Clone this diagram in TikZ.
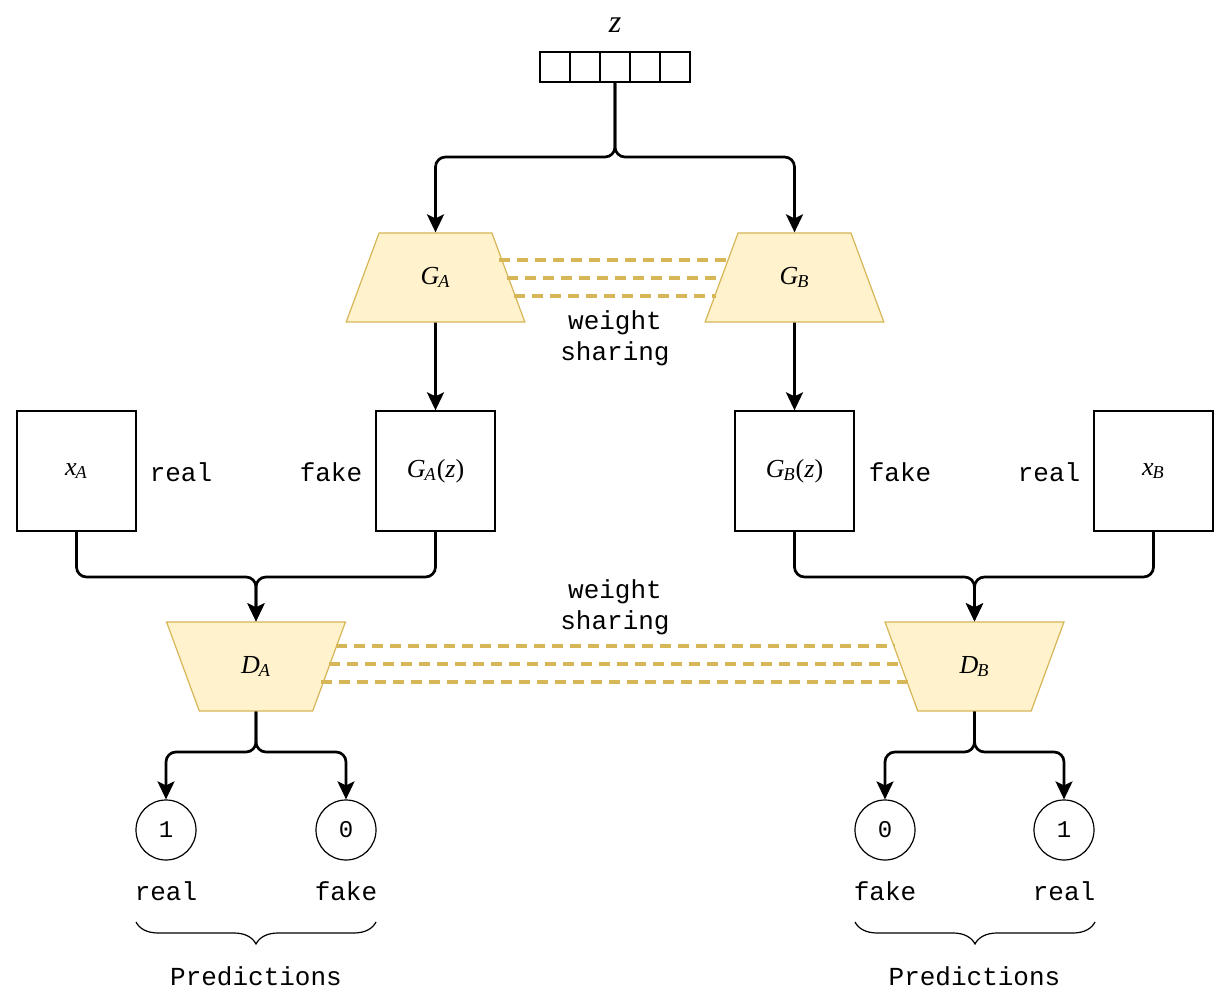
\documentclass[tikz,border=0pt]{standalone}
\usepackage{fontspec}
\setmainfont{Liberation Serif}
\setmonofont{Liberation Mono}
\usetikzlibrary{shapes.geometric,arrows.meta,decorations.pathreplacing,calc}
\definecolor{yfill}{HTML}{FFF2CC}
\definecolor{ydraw}{HTML}{D6B656}
\newcommand{\vsub}[2]{\textit{#1}\kern-0.5pt\textsubscript{\textit{#2}}}
\begin{document}
\begin{tikzpicture}[x=0.5pt,y=-0.5pt,
  every node/.style={font=\fontsize{13}{15}\selectfont},
  cell/.style={draw, line width=0.6pt, minimum width=15pt, minimum height=15pt, inner sep=0pt},
  imgbox/.style={draw, line width=0.65pt, minimum width=59.5pt, minimum height=60pt, inner sep=0pt},
  gen/.style={trapezium, trapezium stretches=true, draw=ydraw, fill=yfill, line width=0.6pt,
    minimum width=89.5pt, minimum height=44.5pt, inner sep=0pt,
    trapezium left angle=67.4, trapezium right angle=67.4},
  disc/.style={gen, shape border rotate=180},
  pred/.style={circle, draw, line width=0.6pt, minimum size=30pt, inner sep=0pt, font=\fontsize{12}{14}\selectfont\ttfamily},
  lbl/.style={font=\fontsize{13}{15}\selectfont\ttfamily, inner sep=0pt},
  conn/.style={line width=1.35pt, rounded corners=5pt, -{Stealth[length=9pt,width=8.5pt,inset=2pt]}},
  share/.style={draw=ydraw, line width=1.6pt, dash pattern=on 5.5pt off 3.5pt},
  brace/.style={decorate, decoration={brace, mirror, amplitude=11pt}, line width=0.6pt}
]
\useasboundingbox (0,0) rectangle (1232,988);

% latent vector z
\node[font=\fontsize{16}{18}\selectfont\itshape] (zlab) at (615,25) {z};
\node[cell] (z1) at (555,67) {};
\node[cell] (z2) at (585,67) {};
\node[cell] (z3) at (615,67) {};
\node[cell] (z4) at (645,67) {};
\node[cell] (z5) at (675,67) {};

% generators
\node[gen] (GA) at (435.5,277.5) {\vsub{G}{A}};
\node[gen] (GB) at (794.5,277.5) {\vsub{G}{B}};

% weight sharing (generators)
\coordinate (ga1) at (499,260); \coordinate (gb1) at (731,260);
\coordinate (ga2) at (507,278); \coordinate (gb2) at (723,278);
\coordinate (ga3) at (514,296); \coordinate (gb3) at (716,296);
\draw[share] (ga1) -- (gb1);
\draw[share] (ga2) -- (gb2);
\draw[share] (ga3) -- (gb3);
\node[lbl] (ws1a) at (615,323) {weight};
\node[lbl] (ws1b) at (615,354) {sharing};

% image boxes
\node[imgbox] (xA) at (76.5,471) {\vsub{x}{A}};
\node[imgbox] (GAz) at (435.5,471) {\vsub{G}{A}(\textit{z})};
\node[imgbox] (GBz) at (794.5,471) {\vsub{G}{B}(\textit{z})};
\node[imgbox] (xB) at (1153.5,471) {\vsub{x}{B}};
\node[lbl] (r1) at (181,472) {real};
\node[lbl] (f1) at (331,472) {fake};
\node[lbl] (f2) at (900,472) {fake};
\node[lbl] (r2) at (1049,472) {real};

% discriminators
\node[disc] (DA) at (256,666.5) {\vsub{D}{A}};
\node[disc] (DB) at (974.5,666.5) {\vsub{D}{B}};

% weight sharing (discriminators)
\coordinate (da1) at (336,646); \coordinate (db1) at (895,646);
\coordinate (da2) at (328.5,664); \coordinate (db2) at (902.5,664);
\coordinate (da3) at (321,682); \coordinate (db3) at (910,682);
\draw[share] (da1) -- (db1);
\draw[share] (da2) -- (db2);
\draw[share] (da3) -- (db3);
\node[lbl] (ws2a) at (615,592) {weight};
\node[lbl] (ws2b) at (615,623) {sharing};

% predictions
\node[pred] (c1) at (166,830) {1};
\node[pred] (c2) at (346,830) {0};
\node[pred] (c3) at (885,830) {0};
\node[pred] (c4) at (1064,830) {1};
\node[lbl] (pl1) at (166,891) {real};
\node[lbl] (pl2) at (346,891) {fake};
\node[lbl] (pl3) at (885,891) {fake};
\node[lbl] (pl4) at (1064,891) {real};

\coordinate (bl1) at (136,922); \coordinate (br1) at (376,922);
\coordinate (bl2) at (855,922); \coordinate (br2) at (1095,922);
\draw[brace] (bl1) -- (br1);
\draw[brace] (bl2) -- (br2);
\node[lbl] (p1) at (256,976) {Predictions};
\node[lbl] (p2) at (974.5,976) {Predictions};

% connectors
\coordinate (s1) at (615,157);
\draw[conn] (z3.south) -- (s1) -| (GA.north);
\draw[conn] (z3.south) -- (s1) -| (GB.north);
\draw[conn] (GA.south) -- (GAz.north);
\draw[conn] (GB.south) -- (GBz.north);
\coordinate (m1) at (256,577);
\coordinate (m2) at (974.5,577);
\draw[conn] (xA.south) |- (m1) -- (DA.north);
\draw[conn] (GAz.south) |- (m1) -- (DA.north);
\draw[conn] (GBz.south) |- (m2) -- (DB.north);
\draw[conn] (xB.south) |- (m2) -- (DB.north);
\coordinate (m3) at (256,752);
\coordinate (m4) at (974.5,752);
\draw[conn] (DA.south) -- (m3) -| (c1.north);
\draw[conn] (DA.south) -- (m3) -| (c2.north);
\draw[conn] (DB.south) -- (m4) -| (c3.north);
\draw[conn] (DB.south) -- (m4) -| (c4.north);
\end{tikzpicture}
\end{document}
